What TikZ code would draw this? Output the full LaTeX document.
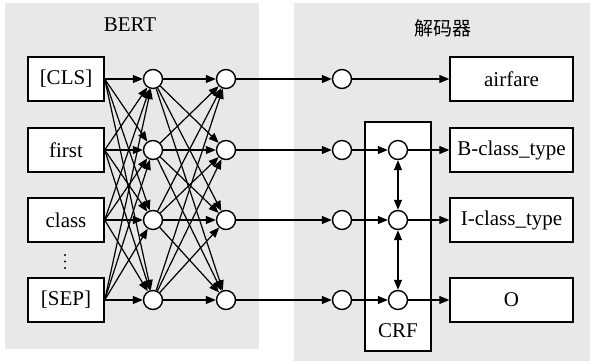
\documentclass[tikz,border=0pt]{standalone}
\usepackage{fontspec}
\setmainfont{Liberation Serif}
\newfontfamily\cjk{Noto Sans CJK SC}
\usetikzlibrary{arrows.meta}

\begin{document}
\begin{tikzpicture}[x=1pt,y=-1pt,
  panel/.style={fill=black!9, draw=none},
  tok/.style={draw, fill=white, line width=1.4pt, minimum width=76pt,
    minimum height=44pt, inner sep=0pt, font=\fontsize{21}{24}\selectfont},
  outbox/.style={tok, minimum width=123pt},
  unit/.style={circle, draw, fill=white, line width=1.4pt,
    minimum size=19pt, inner sep=0pt},
  conn/.style={line width=1.2pt, -{Triangle[length=10pt,width=8pt]}},
  biconn/.style={line width=1.2pt, {Triangle[length=10pt,width=8pt]}-{Triangle[length=10pt,width=8pt]}},
  title/.style={font=\fontsize{21}{24}\selectfont},
]
\useasboundingbox (0,0) rectangle (590,361);

% background panels
\fill[panel] (5,3) rectangle (259,349);
\fill[panel] (294,3) rectangle (590,361);

% panel titles
\node[title] (tbert) at (130,25) {BERT};
\node[title] (tdec) at (443,28) {\cjk\fontsize{19}{22}\selectfont 解码器};

% CRF frame
\draw[fill=white, line width=1.2pt] (365,122) rectangle (431,351);
\node[title] (tcrf) at (398,331) {CRF};

% input tokens
\node[tok] (t1) at (66,79) {[CLS]};
\node[tok] (t2) at (66,150) {first};
\node[tok] (t3) at (66,220) {class};
\node[tok] (t4) at (66,300) {[SEP]};

% vertical ellipsis between the token boxes
\foreach \k/\y in {1/255,2/261.5,3/268}{
  \fill (65,\y) circle (1.2pt) coordinate (dot\k);
}

% hidden layers and decoder units
\foreach \i/\y in {1/79,2/150,3/220,4/300}{
  \node[unit] (a\i) at (153,\y) {};
  \node[unit] (b\i) at (226,\y) {};
  \node[unit] (d\i) at (342,\y) {};
}
\foreach \i/\y in {2/150,3/220,4/300}{
  \node[unit] (c\i) at (398,\y) {};
}

% output labels
\node[outbox] (o1) at (511.5,79) {airfare};
\node[outbox] (o2) at (511.5,150) {B-class\_type};
\node[outbox] (o3) at (511.5,220) {I-class\_type};
\node[outbox] (o4) at (511.5,300) {O};

% fully connected layers
\foreach \i in {1,...,4}{
  \foreach \j in {1,...,4}{
    \draw[conn] (t\i.east) -- (a\j);
    \draw[conn] (a\i) -- (b\j);
  }
  \draw[conn] (b\i) -- (d\i);
}

% decoder
\draw[conn] (d1) -- (o1);
\foreach \i in {2,3,4}{
  \draw[conn] (d\i) -- (c\i);
  \draw[conn] (c\i) -- (o\i);
}
\draw[biconn] (c2) -- (c3);
\draw[biconn] (c3) -- (c4);
\end{tikzpicture}
\end{document}
